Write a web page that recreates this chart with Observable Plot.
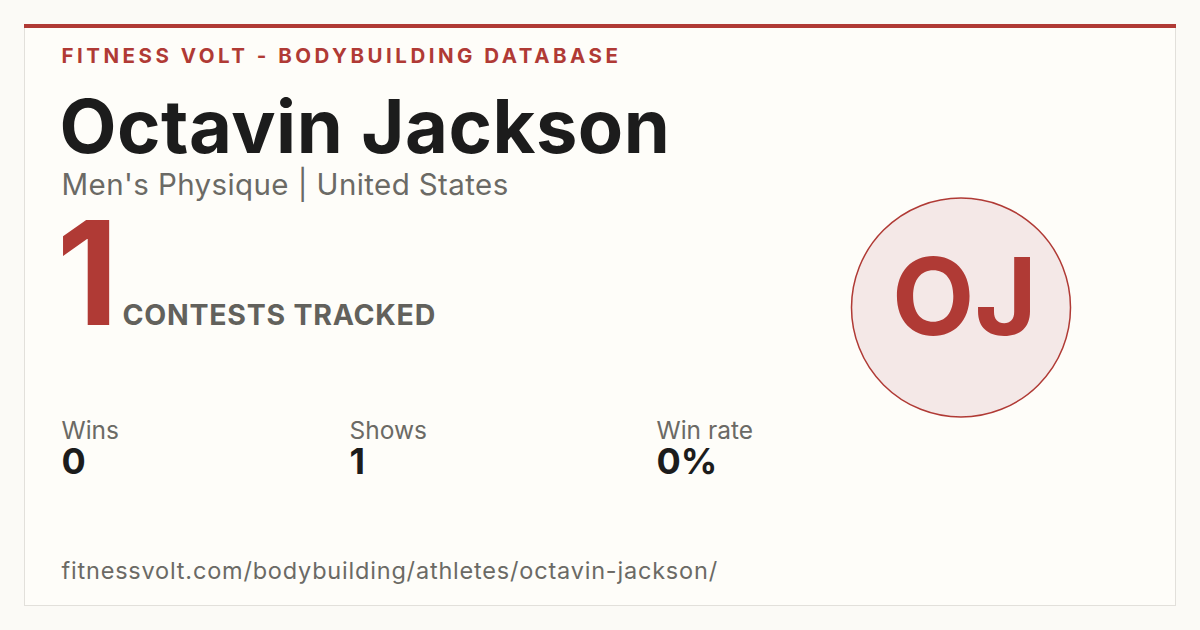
<!DOCTYPE html>
<html>
<head>
<meta charset="utf-8">
<script src="https://cdn.jsdelivr.net/npm/d3@7"></script>
<script src="https://cdn.jsdelivr.net/npm/@observablehq/plot@0.6"></script>
<style>
  html, body { margin: 0; padding: 0; background: #fbfaf6; }
  #chart svg { display: block; }
</style>
</head>
<body>
<div id="chart"></div>
<script>
// ---- data ----
const brand = "FITNESS VOLT - BODYBUILDING DATABASE";
const athleteName = "Octavin Jackson";
const division = "Men's Physique";
const country = "United States";
const contestsTracked = [1];
const contestsLabel = "CONTESTS TRACKED";
const statLabels = ["Wins", "Shows", "Win rate"];
const statValues = ["0", "1", "0%"];
const initials = "OJ";
const profileUrl = "fitnessvolt.com/bodybuilding/athletes/octavin-jackson/";

// ---- layout (not data) ----
const W = 1200, H = 630;
const RED = "#b03a35", INK = "#1c1c1c", GRAY = "#6b6a65";
const FONT = "Inter, 'DejaVu Sans', sans-serif";
const statX = [61, 349, 656];
const stats = statLabels.map((label, i) => ({label, value: statValues[i], x: statX[i]}));

const plot = Plot.plot({
  width: W, height: H,
  margin: 0,
  x: {domain: [0, W], range: [0, W], axis: null},
  y: {domain: [0, H], range: [0, H], axis: null},
  r: {type: "identity"},
  style: {background: "#fbfaf6", fontFamily: FONT},
  marks: [
    // card
    Plot.rect([0], {x1: 24.5, x2: 1175.5, y1: 24.5, y2: 605.5, fill: "#fefdf9", stroke: "#e2e0db", strokeWidth: 1}),
    Plot.rect([0], {x1: 24, x2: 1176, y1: 24, y2: 28, fill: RED}),
    // brand
    Plot.text([brand], {x: 61, y: 62, text: d => d, textAnchor: "start", lineAnchor: "bottom",
      fill: RED, fontSize: 20.5, fontWeight: 700, className: "brand"}),
    // name
    Plot.text([athleteName], {x: 59, y: 152, text: d => d, textAnchor: "start", lineAnchor: "bottom",
      fill: INK, fontSize: 74, fontWeight: 700, className: "name"}),
    // division | country
    Plot.text([`${division} | ${country}`], {x: 61, y: 194, text: d => d, textAnchor: "start", lineAnchor: "bottom",
      fill: GRAY, fontSize: 29.5, fontWeight: 400, className: "division"}),
    // big count
    Plot.text(contestsTracked, {x: 56, y: 324, text: d => String(d), textAnchor: "start", lineAnchor: "bottom",
      fill: RED, fontSize: 144, fontWeight: 700, className: "big"}),
    Plot.text([contestsLabel], {x: 122, y: 324, text: d => d, textAnchor: "start", lineAnchor: "bottom",
      fill: "#62615c", fontSize: 28.5, fontWeight: 700, className: "contests"}),
    // stats
    Plot.text(stats, {x: "x", y: 438, text: "label", textAnchor: "start", lineAnchor: "bottom",
      fill: GRAY, fontSize: 24.5, fontWeight: 400}),
    Plot.text(stats, {x: "x", y: 473, text: "value", textAnchor: "start", lineAnchor: "bottom",
      fill: INK, fontSize: 36, fontWeight: 700}),
    // url
    Plot.text([profileUrl], {x: 61, y: 578, text: d => d, textAnchor: "start", lineAnchor: "bottom",
      fill: GRAY, fontSize: 23.5, fontWeight: 400, className: "url"}),
    // avatar
    Plot.dot([0], {x: 960.5, y: 307, r: 109.5, fill: "#f4e8e7", stroke: RED, strokeWidth: 1.5}),
    Plot.text([initials], {x: 964, y: 334, text: d => d, textAnchor: "middle", lineAnchor: "bottom",
      fill: RED, fontSize: 107, fontWeight: 700})
  ]
});

const sel = d3.select(plot);
sel.selectAll("g.brand text").attr("letter-spacing", "3.5px");
sel.selectAll("g.name text").attr("letter-spacing", "0.5px");
sel.selectAll("g.division text").attr("letter-spacing", "0.4px");
sel.selectAll("g.contests text").attr("letter-spacing", "0.75px");
sel.selectAll("g.url text").attr("letter-spacing", "0.8px");
document.getElementById("chart").appendChild(plot);
</script>
</body>
</html>
